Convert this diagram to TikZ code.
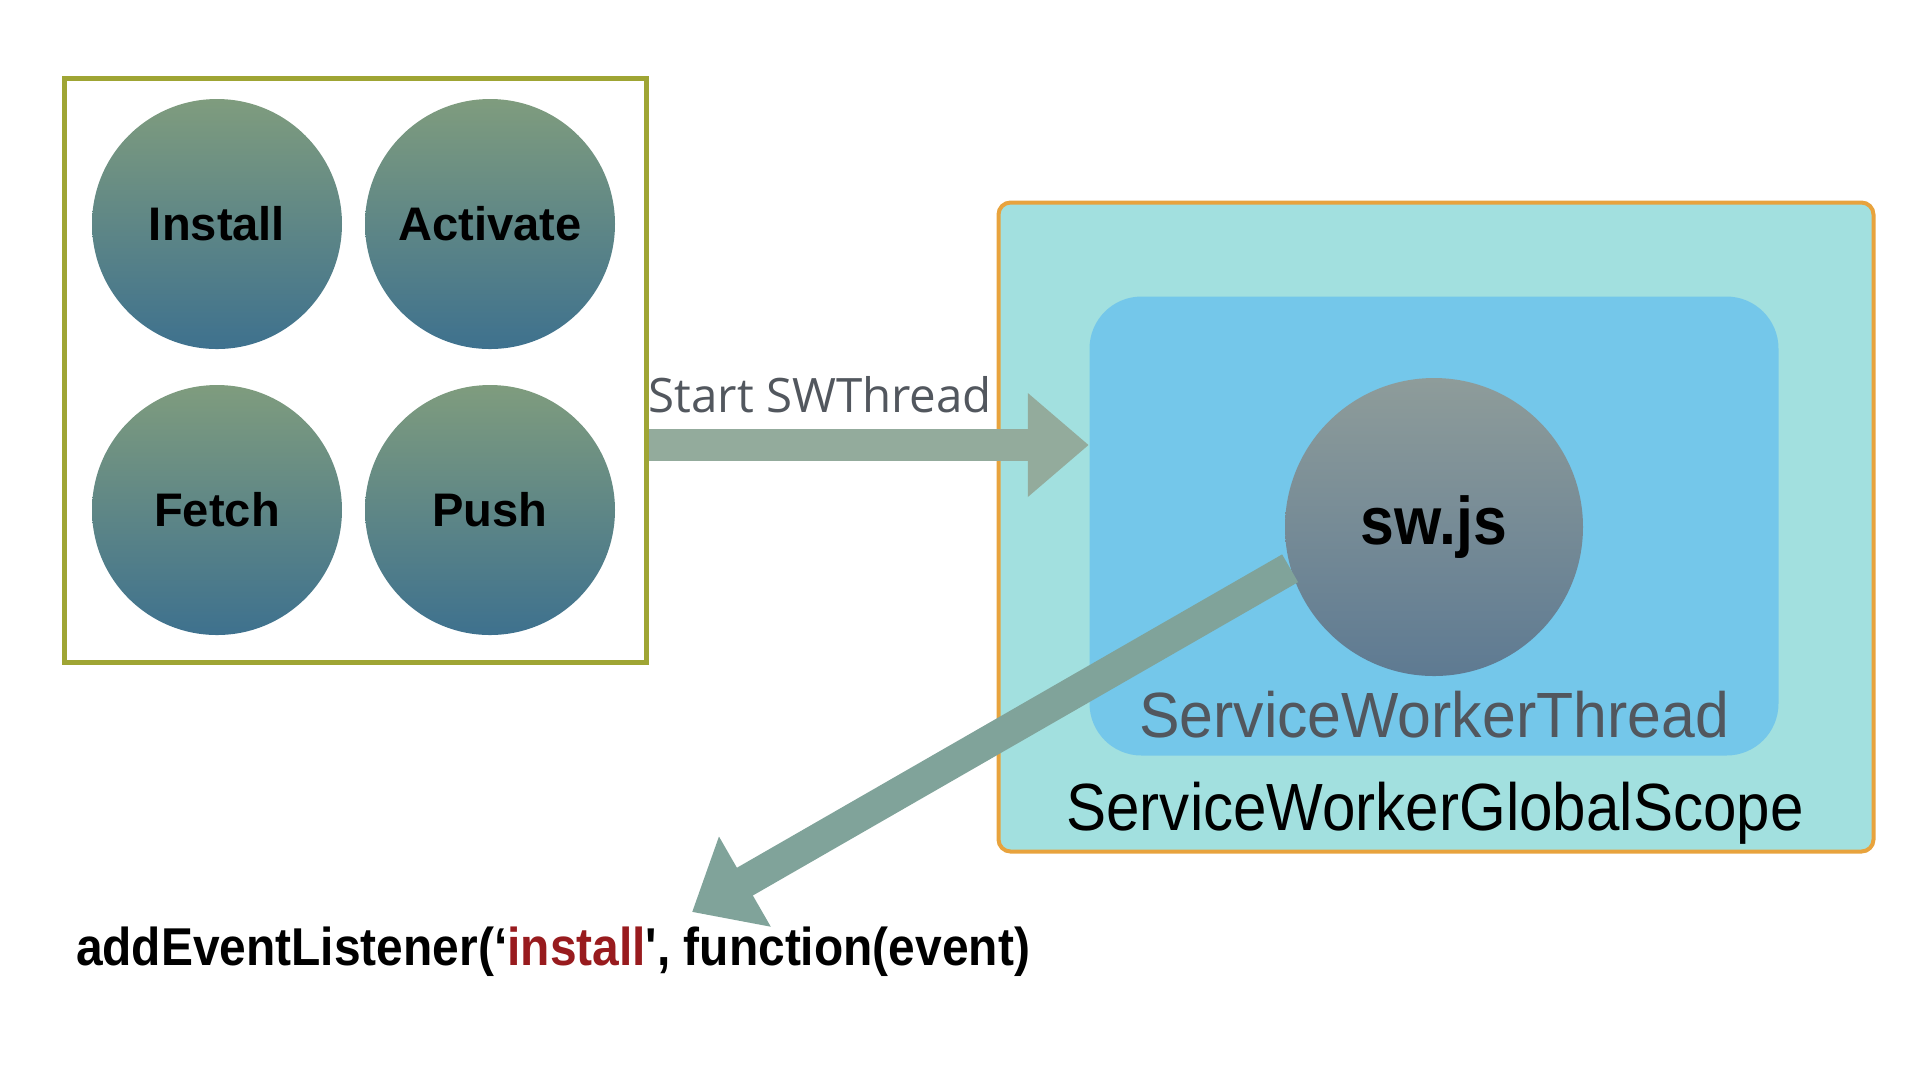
\documentclass[tikz,border=0pt]{standalone}
\usepackage{fontspec}
\setmainfont{Liberation Sans}
\newfontfamily\startfont{Open Sans}
\newfontfamily\narrowfont[FakeStretch=0.9]{Liberation Sans}
\newfontfamily\threadfont[FakeStretch=0.95]{Liberation Sans}
\usetikzlibrary{arrows.meta, positioning}
\definecolor{olivebox}{HTML}{9FA534}
\definecolor{scopeedge}{HTML}{E8A33D}
\definecolor{scopefill}{HTML}{A2E0DF}
\definecolor{threadfill}{HTML}{74C7EA}
\definecolor{evtop}{HTML}{7F9C7E}
\definecolor{evbottom}{HTML}{3E718E}
\definecolor{swtop}{HTML}{8E9C9A}
\definecolor{swbottom}{HTML}{5E7A92}
\definecolor{startarrow}{HTML}{93AB9C}
\definecolor{backarrow}{HTML}{80A39A}
\definecolor{labelgray}{HTML}{52575E}
\definecolor{eventred}{HTML}{981B1E}
\tikzset{
  event/.style={
    circle, minimum size=25mm, inner sep=0pt,
    top color=evtop, bottom color=evbottom,
    font=\fontsize{13.4}{16}\selectfont\bfseries
  },
  flow/.style={
    draw=#1, line width=3.2mm,
    -{Triangle[length=6.1mm, width=10mm]}
  },
}
\begin{document}
\begin{tikzpicture}[x=0.1mm, y=-0.1mm]
  \useasboundingbox (0,0) rectangle (1920,1080);

  % event box
  \node[draw=olivebox, line width=0.5mm, minimum width=58.2mm,
        minimum height=58.4mm] (events) at (355,370) {};
  \node[event] (install)  at (217,224) {Install};
  \node[event] (activate) at (490,224) {Activate};
  \node[event] (fetch)    at (217,510) {Fetch};
  \node[event] (push)     at (490,510) {Push};

  % global scope
  \node[draw=scopeedge, fill=scopefill, line width=0.4mm,
        rounded corners=1.2mm, minimum width=87.5mm,
        minimum height=64.9mm] (scope) at (1436,527) {};
  \node[fill=threadfill, rounded corners=5.2mm,
        minimum width=68.9mm, minimum height=45.9mm]
        (thread) at (1434,526) {};
  \node[circle, minimum size=29.8mm, inner sep=0pt,
        top color=swtop, bottom color=swbottom,
        font=\narrowfont\fontsize{19.2}{22}\selectfont\bfseries]
        (swjs) at (1434,527) {\raisebox{-0.5mm}{sw.js}};
  \node[text=labelgray, font=\threadfont\fontsize{18.2}{20}\selectfont]
        (threadname) at (1434,715) {ServiceWorkerThread};
  \node[font=\narrowfont\fontsize{19}{22}\selectfont]
        (scopename) at (1435,813) {ServiceWorkerGlobalScope};

  % listener call
  \node[font=\narrowfont\fontsize{15.15}{18}\selectfont\bfseries]
        (listener) at (553,952)
        {addEventListener(‘\textcolor{eventred}{install}', function(event)};
  \coordinate (tip) at (692,912);

  % arrows
  \draw[flow=startarrow] (events.east |- 0,445) -- (thread.west |- 0,445)
    node[pos=0.39, above=0.4mm, text=labelgray,
         font=\startfont\fontsize{13.5}{16}\selectfont] (startlabel) {Start SWThread};
  \draw[flow=backarrow] (swjs.196) -- (tip);
\end{tikzpicture}
\end{document}
